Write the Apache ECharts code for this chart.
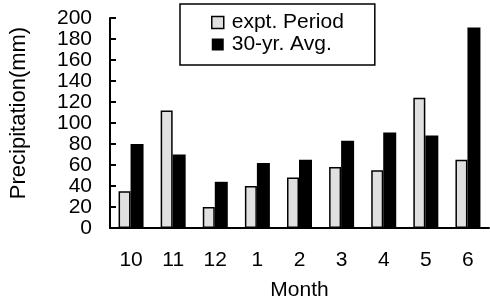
<!DOCTYPE html>
<html>
<head>
<meta charset="utf-8">
<script src="https://cdn.jsdelivr.net/npm/echarts@6/dist/echarts.min.js"></script>
<style>html,body{margin:0;padding:0;background:#fff}#c{width:490px;height:306px}</style>
</head>
<body>
<div id="c"></div>
<script>
var months = ['10','11','12','1','2','3','4','5','6'];
var exptPeriod = [35, 112, 20, 40, 48, 58, 55, 124, 65];
var avg30yr = [80, 70, 44, 62, 65, 83, 91, 88, 191];
var yTicks = {min: 0, max: 200, interval: 20};
var seriesNames = ['expt. Period', '30-yr. Avg.'];

var font = 'Liberation Sans, Arial, sans-serif';
var chart = echarts.init(document.getElementById('c'), null, {renderer: 'canvas'});
chart.setOption({
  animation: false,
  backgroundColor: '#fff',
  textStyle: {fontFamily: font, color: '#000'},
  grid: {left: 104, right: 1, top: 18, bottom: 77, containLabel: false},
  legend: {
    left: 180, top: 4, orient: 'vertical',
    borderColor: '#000', borderWidth: 1.5,
    padding: [8, 31, 10, 31],
    itemWidth: 12, itemHeight: 12, itemGap: 1,
    icon: 'rect',
    textStyle: {fontFamily: font, fontSize: 21, color: '#000', lineHeight: 20, padding: [0, 0, 0, 3]},
    data: [
      {name: seriesNames[0], itemStyle: {color: '#e0e0e0', borderColor: '#000', borderWidth: 1.5}},
      {name: seriesNames[1], itemStyle: {color: '#000', borderWidth: 0}}
    ]
  },
  xAxis: {
    type: 'category', data: months,
    name: 'Month', nameLocation: 'middle', nameGap: 52,
    nameTextStyle: {fontFamily: font, fontSize: 21, color: '#000'},
    axisLine: {lineStyle: {color: '#000', width: 2}},
    axisTick: {inside: true, length: 6, lineStyle: {color: '#000', width: 2}},
    axisLabel: {fontFamily: font, fontSize: 21, color: '#000', margin: 22}
  },
  yAxis: {
    type: 'value', min: yTicks.min, max: yTicks.max, interval: yTicks.interval,
    name: 'Precipitation(mm)', nameLocation: 'middle', nameGap: 80,
    nameTextStyle: {fontFamily: font, fontSize: 22, color: '#000', padding: [0, 0, 0, 20]},
    splitLine: {show: false},
    axisLine: {show: true, lineStyle: {color: '#000', width: 2}},
    axisTick: {show: true, inside: true, length: 6, lineStyle: {color: '#000', width: 2}},
    axisLabel: {fontFamily: font, fontSize: 21, color: '#000', margin: 18}
  },
  series: [
    {name: seriesNames[0], type: 'bar', data: exptPeriod, barWidth: 12, barGap: '0%',
     itemStyle: {color: '#e0e0e0', borderColor: '#000', borderWidth: 1.5}},
    {name: seriesNames[1], type: 'bar', data: avg30yr, barWidth: 13,
     itemStyle: {color: '#000'}}
  ]
});
</script>
</body>
</html>
